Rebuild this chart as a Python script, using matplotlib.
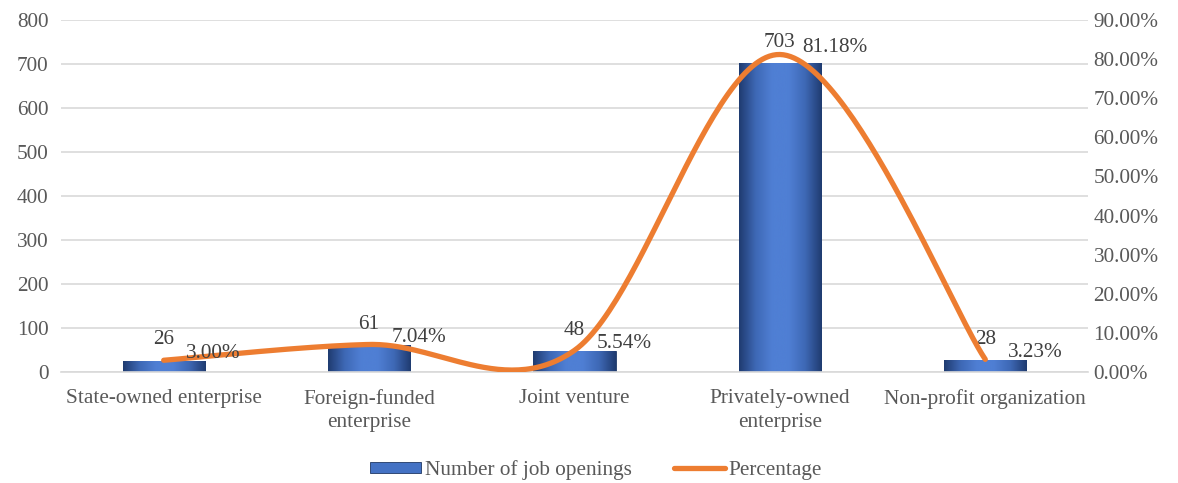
import numpy as np
import matplotlib
matplotlib.use("Agg")
import matplotlib.pyplot as plt
from matplotlib.lines import Line2D
from matplotlib.patches import Patch
from matplotlib.colors import LinearSegmentedColormap

categories = ["State-owned enterprise", "Foreign-funded\nenterprise", "Joint venture",
              "Privately-owned\nenterprise", "Non-profit organization"]
job_openings = [26, 61, 48, 703, 28]
percentages = [3.00, 7.04, 5.54, 81.18, 3.23]
left_ticks = [0, 100, 200, 300, 400, 500, 600, 700, 800]
right_ticks = [0, 10, 20, 30, 40, 50, 60, 70, 80, 90]

plt.rcParams['font.family'] = ['Liberation Serif', 'DejaVu Serif']
TXT = '#595959'
GRID = '#d9d9d9'
ORANGE = '#ED7D31'
BLUE = '#4472C4'
FS = 15.3

fig = plt.figure(figsize=(11.78, 4.83), dpi=100)
ax = fig.add_axes([61/1178, 1 - 372/483, (1088 - 61)/1178, (372 - 20)/483])
ax2 = ax.twinx()

x = np.arange(len(categories))
bars = ax.bar(x, job_openings, width=0.4, color=BLUE, edgecolor='#1f3864', linewidth=0.6, zorder=2)

# gradient overlay for a bevel-like look
cmap = LinearSegmentedColormap.from_list('bev', ['#1f3b70', '#3e68b5', '#4f7fd4', '#4f7fd4', '#3e68b5', '#1f3b70'])
grad = np.linspace(0, 1, 256).reshape(1, -1)
for b in bars:
    x0, y0 = b.get_x(), b.get_y()
    w, h = b.get_width(), b.get_height()
    im = ax.imshow(grad, extent=[x0, x0 + w, y0, y0 + h], aspect='auto', cmap=cmap,
                   origin='lower', zorder=2.1, interpolation='bicubic')
    im.set_clip_path(b)

ax.set_xlim(-0.5, len(categories) - 0.5)
ax.set_ylim(0, 800)
ax.set_yticks(left_ticks)
ax.set_xticks(x)
ax.set_xticklabels(categories, fontsize=FS, color=TXT, linespacing=1.35)
ax.tick_params(axis='y', labelsize=FS, labelcolor=TXT, length=0, pad=9)
ax.tick_params(axis='x', length=0, pad=12)
ax.yaxis.grid(True, color=GRID, linewidth=1.2, zorder=0)
ax.set_axisbelow(True)
for s in ['top', 'left', 'right']:
    ax.spines[s].set_visible(False)
ax.spines['bottom'].set_color(GRID)
ax.spines['bottom'].set_linewidth(1.2)

for xi, v in zip(x, job_openings):
    ax.annotate(str(v), (xi, v), xytext=(0, 8), textcoords='offset points',
                ha='center', va='bottom', fontsize=FS, color='#404040', zorder=5)

# smoothed line (Catmull-Rom / Bezier like Excel's smoothing)
px = np.array(x, dtype=float)
py = np.array(percentages, dtype=float)
n = len(px)
cx, cy = [], []
t = np.linspace(0, 1, 60)
for i in range(n - 1):
    p0 = i - 1 if i > 0 else i
    p3 = i + 2 if i + 2 < n else i + 1
    c1x = px[i] + (px[i + 1] - px[p0]) / 6
    c1y = py[i] + (py[i + 1] - py[p0]) / 6
    c2x = px[i + 1] - (px[p3] - px[i]) / 6
    c2y = py[i + 1] - (py[p3] - py[i]) / 6
    bx = (1 - t)**3 * px[i] + 3 * (1 - t)**2 * t * c1x + 3 * (1 - t) * t**2 * c2x + t**3 * px[i + 1]
    by = (1 - t)**3 * py[i] + 3 * (1 - t)**2 * t * c1y + 3 * (1 - t) * t**2 * c2y + t**3 * py[i + 1]
    cx.extend(bx)
    cy.extend(by)
ax2.plot(cx, cy, color=ORANGE, linewidth=3.8, solid_capstyle='round', zorder=3)
ax2.set_ylim(0, 90)
ax2.set_yticks(right_ticks)
ax2.set_yticklabels([f"{v:.2f}%" for v in right_ticks])
ax2.tick_params(axis='y', labelsize=FS, labelcolor=TXT, length=0, pad=4)
for s in ['top', 'left', 'right', 'bottom']:
    ax2.spines[s].set_visible(False)

for xi, v in zip(x, percentages):
    ax2.annotate(f"{v:.2f}%", (xi, v), xytext=(16, 5), textcoords='offset points',
                 ha='left', va='center', fontsize=FS, color='#404040', zorder=5)

handles = [Patch(facecolor=BLUE, edgecolor='#1f3864', linewidth=0.6),
           Line2D([0], [0], color=ORANGE, linewidth=3.8, solid_capstyle='round')]
fig.legend(handles, ["Number of job openings", "Percentage"], loc='center',
           bbox_to_anchor=(596/1178, 1 - 470/483), ncol=2, frameon=False,
           fontsize=FS, labelcolor=TXT, handlelength=2.4, handleheight=0.4,
           handletextpad=0.15, columnspacing=2.0)

fig.savefig("out.png", dpi=100)
